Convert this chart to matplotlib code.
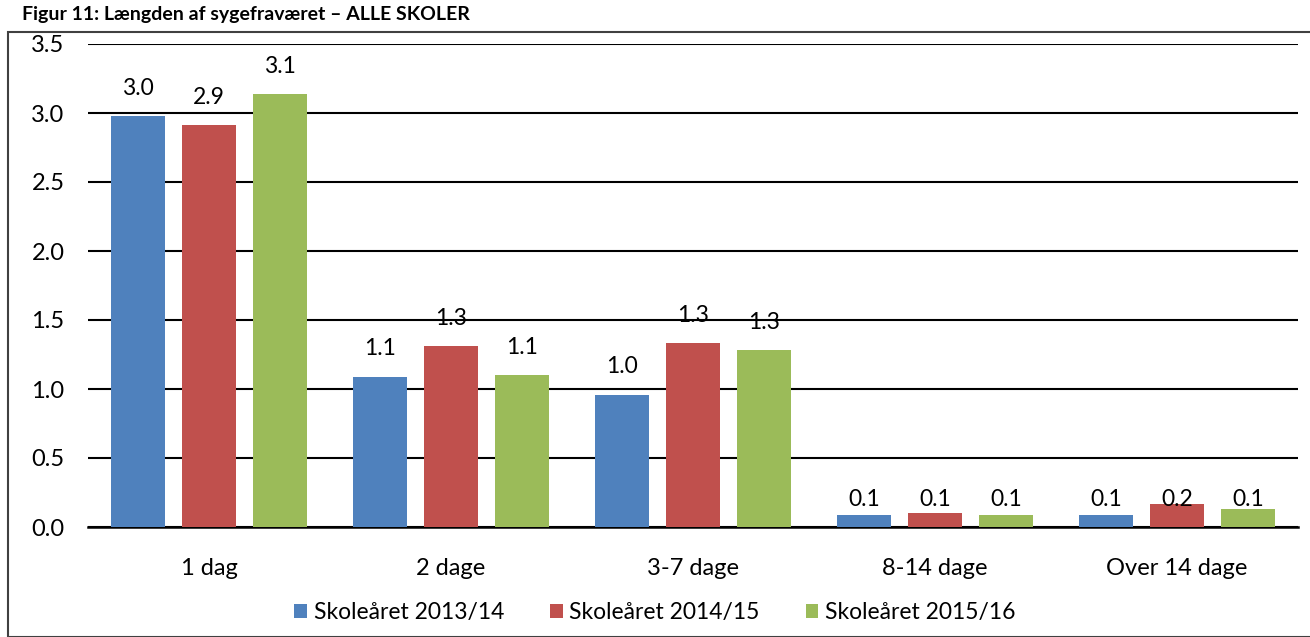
import matplotlib.pyplot as plt
import numpy as np
from matplotlib.patches import Rectangle

plt.rcParams['font.family'] = ['Lato', 'DejaVu Sans']

# data
categories = ["1 dag", "2 dage", "3-7 dage", "8-14 dage", "Over 14 dage"]
series_names = ["Skoleåret 2013/14", "Skoleåret 2014/15", "Skoleåret 2015/16"]
vals_1314 = [2.98, 1.09, 0.96, 0.09, 0.09]
vals_1415 = [2.91, 1.31, 1.33, 0.10, 0.17]
vals_1516 = [3.14, 1.10, 1.28, 0.09, 0.13]
colors = ["#4F81BD", "#C0504D", "#9BBB59"]

fig = plt.figure(figsize=(13.1, 6.37), dpi=100)
ax = fig.add_axes([88/1310, 110/637, 1210/1310, 483/637])

x = np.arange(len(categories))
width = 0.223
pitch = 0.293
for i, (vals, name) in enumerate(zip([vals_1314, vals_1415, vals_1516], series_names)):
    pos = x + (i - 1) * pitch
    ax.bar(pos, vals, width, color=colors[i], label=name, zorder=3)
    for p, v in zip(pos, vals):
        ly = v + 0.2 if v > 0.5 else 0.2
        ax.text(p, ly, f"{v:.1f}", ha='center', va='center', fontsize=16.5, zorder=4)

ax.set_xlim(-0.5, 4.5)
ax.set_ylim(0, 3.5)
ax.set_yticks(np.arange(0, 3.51, 0.5))
ax.set_yticklabels([f"{t:.1f}" for t in np.arange(0, 3.51, 0.5)])
ax.set_xticks(x)
ax.set_xticklabels(categories)
ax.tick_params(axis='both', length=0, labelsize=17)
ax.tick_params(axis='y', pad=17)
ax.tick_params(axis='x', pad=22)
ax.grid(axis='y', color='black', linewidth=1.5, zorder=1)
for s in ["top", "right", "left"]:
    ax.spines[s].set_visible(False)
ax.spines["bottom"].set_linewidth(1.8)
ax.set_facecolor('none')

fig.legend(loc='center', bbox_to_anchor=(0.5, 1 - 613/637), ncol=3, frameon=False,
           fontsize=16.5, handlelength=0.55, handleheight=0.55, handletextpad=0.3,
           columnspacing=2.0)

# chart frame
fig.patches.append(Rectangle((8/1310, 0), 1.0, 1 - 32/637, transform=fig.transFigure,
                             fill=False, edgecolor='#404040', linewidth=1.5))
fig.text(22/1310, 1 - 6/637, "Figur 11: Længden af sygefraværet – ALLE SKOLER",
         fontsize=14, fontweight='bold', va='top', ha='left')

plt.savefig("out.png", dpi=100)
